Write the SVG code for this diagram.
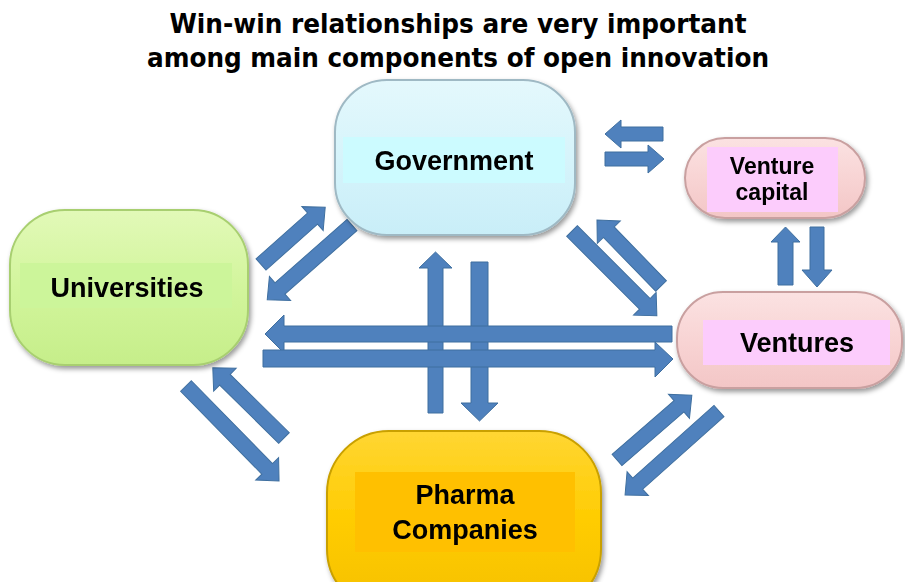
<svg xmlns="http://www.w3.org/2000/svg" width="905" height="582" viewBox="0 0 905 582">
<defs>
<style>
.title{font-family:"DejaVu Sans","Liberation Sans",sans-serif;font-weight:bold;font-size:26px;fill:#000;text-anchor:middle}
.lbl{font-family:"Liberation Sans",Arial,sans-serif;font-weight:bold;font-size:27px;fill:#000;text-anchor:middle}
.lbl-s{font-family:"Liberation Sans",Arial,sans-serif;font-weight:bold;font-size:23px;fill:#000;text-anchor:middle}
.arr{fill:#4f81bd;stroke:#3f6f9f;stroke-width:1}
.node{filter:url(#sh)}
</style>
<filter id="sh" x="-10%" y="-10%" width="125%" height="130%">
<feDropShadow dx="2" dy="3" stdDeviation="2.5" flood-color="#000" flood-opacity="0.4"/>
</filter>
<linearGradient id="gGov" x1="0" y1="0" x2="0" y2="1">
<stop offset="0" stop-color="#e4f8fc"/><stop offset="0.5" stop-color="#d6f4fb"/><stop offset="1" stop-color="#c9eef8"/>
</linearGradient>
<linearGradient id="gUni" x1="0" y1="0" x2="0" y2="1">
<stop offset="0" stop-color="#e2f9b8"/><stop offset="0.5" stop-color="#d2f59c"/><stop offset="1" stop-color="#c6ee8a"/>
</linearGradient>
<linearGradient id="gPink" x1="0" y1="0" x2="0" y2="1">
<stop offset="0" stop-color="#fbe2e2"/><stop offset="0.5" stop-color="#f8d4d4"/><stop offset="1" stop-color="#f3c6c6"/>
</linearGradient>
<linearGradient id="gPh" x1="0" y1="0" x2="0" y2="1">
<stop offset="0" stop-color="#ffd633"/><stop offset="0.5" stop-color="#ffcc00"/><stop offset="1" stop-color="#f5c000"/>
</linearGradient>
</defs>
<rect width="905" height="582" fill="#fff"/>

<text class="title" x="458" y="33" textLength="577" lengthAdjust="spacingAndGlyphs">Win-win relationships are very important</text>
<text class="title" x="458" y="67" textLength="622" lengthAdjust="spacingAndGlyphs">among main components of open innovation</text>

<g id="connectors">
<!-- Government <-> Venture capital -->
<polygon class="arr" points="605,134 621,120 621,127 663,127 663,141 621,141 621,148"/>
<polygon class="arr" points="664,159 648,145 648,152 605,152 605,166 648,166 648,173"/>
<!-- Venture capital <-> Ventures -->
<polygon class="arr" points="785.5,227 800,242 793,242 793,285 778,285 778,242 771,242"/>
<polygon class="arr" points="817,287 832,270 824,270 824,227 810,227 810,270 802,270"/>
<!-- Government <-> Pharma -->
<polygon class="arr" points="435.5,252 452,268 443,268 443,413 428,413 428,268 419,268"/>
<polygon class="arr" points="479.5,421 498,403 488,403 488,262 471,262 471,403 461,403"/>
<!-- Universities <-> Ventures -->
<polygon class="arr" points="265,334 284,315 284,326 672,326 672,342 284,342 284,353"/>
<polygon class="arr" points="673,359 655,342 655,350 263,350 263,367 655,367 655,377"/>
<!-- Universities <-> Government -->
<path class="arr" transform="translate(261,264.5) rotate(-41.7)" d="M0,-7.5 H69 V-16 L86,0 L69,16 V7.5 H0 Z"/>
<path class="arr" transform="translate(352,225) rotate(138.6)" d="M0,-7.5 H96 V-16 L113,0 L96,16 V7.5 H0 Z"/>
<!-- Government <-> Ventures -->
<path class="arr" transform="translate(572,231) rotate(45)" d="M0,-7.5 H103 V-16 L120,0 L103,16 V7.5 H0 Z"/>
<path class="arr" transform="translate(661,286) rotate(-134.1)" d="M0,-7.5 H75 V-16 L92,0 L75,16 V7.5 H0 Z"/>
<!-- Universities <-> Pharma -->
<path class="arr" transform="translate(186,386) rotate(45.6)" d="M0,-7.5 H116 V-16 L133,0 L116,16 V7.5 H0 Z"/>
<path class="arr" transform="translate(284,438) rotate(-135.4)" d="M0,-7.5 H83 V-16 L100,0 L83,16 V7.5 H0 Z"/>
<!-- Pharma <-> Ventures -->
<path class="arr" transform="translate(617,460) rotate(-40.9)" d="M0,-7.5 H82 V-16 L99,0 L82,16 V7.5 H0 Z"/>
<path class="arr" transform="translate(719,411) rotate(138.2)" d="M0,-7.5 H109 V-16 L126,0 L109,16 V7.5 H0 Z"/>
</g>

<g id="government" class="node">
<rect x="335" y="80" width="240" height="155" rx="52" fill="url(#gGov)" stroke="#9fb9c4" stroke-width="2"/>
<rect x="343" y="137" width="222" height="46" fill="#ccfbff"/>
<text class="lbl" x="454" y="170">Government</text>
</g>

<g id="universities" class="node">
<rect x="10" y="210" width="238" height="155" rx="55" fill="url(#gUni)" stroke="#a8cf70" stroke-width="2"/>
<rect x="20" y="263" width="212" height="45" fill="#ccf59a"/>
<text class="lbl" x="127" y="297">Universities</text>
</g>

<g id="venture-capital" class="node">
<rect x="685" y="138" width="180" height="80" rx="40" fill="url(#gPink)" stroke="#c9a0a0" stroke-width="2"/>
<rect x="707" y="147" width="131" height="65" fill="#fcccfc"/>
<text class="lbl-s" x="772" y="174">Venture</text>
<text class="lbl-s" x="772" y="200">capital</text>
</g>

<g id="ventures" class="node">
<rect x="677" y="292" width="225" height="96" rx="46" fill="url(#gPink)" stroke="#c9a0a0" stroke-width="2"/>
<rect x="703" y="320" width="187" height="45" fill="#fcccfc"/>
<text class="lbl" x="797" y="352">Ventures</text>
</g>

<g id="pharma" class="node">
<rect x="327" y="431" width="274" height="180" rx="62" fill="url(#gPh)" stroke="#c9a000" stroke-width="2"/>
<rect x="355" y="472" width="220" height="80" fill="#ffc000"/>
<text class="lbl" x="465" y="504">Pharma</text>
<text class="lbl" x="465" y="539">Companies</text>
</g>
</svg>
